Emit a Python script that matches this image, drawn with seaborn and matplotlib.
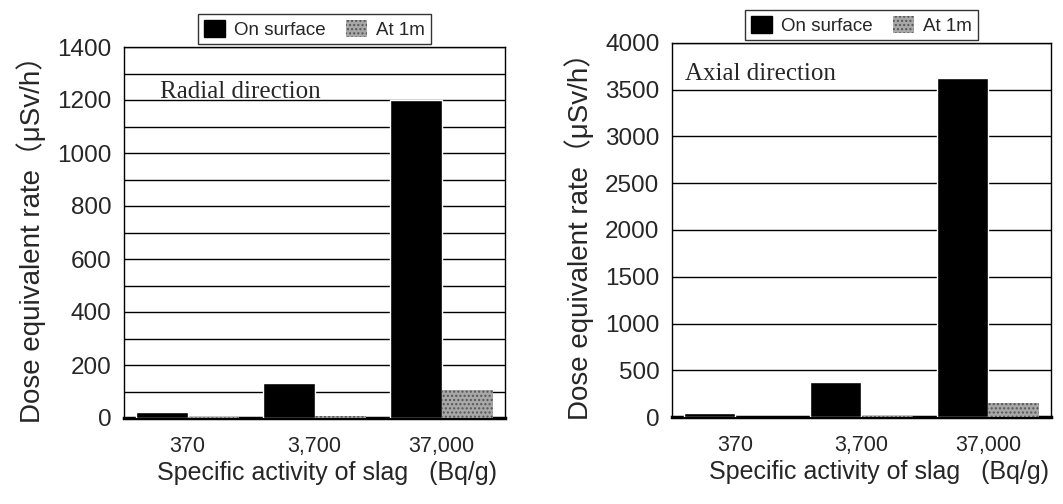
import matplotlib
matplotlib.use("Agg")
import matplotlib.pyplot as plt
import seaborn as sns
import pandas as pd
from matplotlib.patches import Patch

# Specific activity categories (Bq/g)
activities = ["370", "3,700", "37,000"]
series = ["On surface", "At 1m"]

# Dose equivalent rate (uSv/h), radial direction
radial_surface = [24, 131, 1200]
radial_1m = [2, 9, 104]

# Dose equivalent rate (uSv/h), axial direction
axial_surface = [45, 375, 3630]
axial_1m = [3, 12, 155]

sns.set_theme(style="white")
plt.rcParams["font.family"] = ["Liberation Sans", "Noto Sans CJK JP", "DejaVu Sans"]

SURF_COLOR = "#000000"
ONEM_COLOR = "#a8a8a8"


def make_frame(surface, one_m):
    rows = []
    for a, s, m in zip(activities, surface, one_m):
        rows.append({"activity": a, "series": series[0], "rate": s})
        rows.append({"activity": a, "series": series[1], "rate": m})
    return pd.DataFrame(rows)


def draw_panel(ax, df, ymax, major, minor, label, label_xy, xlabel_x):
    sns.barplot(data=df, x="activity", y="rate", hue="series",
                hue_order=series, order=activities,
                palette=[SURF_COLOR, ONEM_COLOR], width=0.81,
                saturation=1, dodge=True, ax=ax, legend=False, zorder=3)
    for patch in ax.patches[len(activities):]:
        patch.set_hatch("....")
        patch.set_edgecolor("#555555")
        patch.set_linewidth(0)
    ax.set_ylim(0, ymax)
    ax.set_xlim(-0.5, 2.5)
    ax.set_yticks(range(0, ymax + 1, major))
    ax.set_yticks(range(0, ymax + 1, minor), minor=True)
    ax.grid(True, axis="y", which="both", color="black", linewidth=1.0, zorder=0)
    ax.set_axisbelow(True)
    for side in ["left", "top", "right"]:
        ax.spines[side].set_visible(True)
        ax.spines[side].set_color("black")
        ax.spines[side].set_linewidth(1.0)
    ax.spines["bottom"].set_color("black")
    ax.spines["bottom"].set_linewidth(2.5)
    ax.tick_params(axis="y", labelsize=17.5, length=0, pad=9)
    ax.tick_params(axis="x", labelsize=15.5, length=0, pad=13)
    ax.set_xlabel("Specific activity of slag   (Bq/g)", fontsize=18,
                  labelpad=3, x=xlabel_x)
    ax.set_ylabel("Dose equivalent rate\uff08\u03bcSv/h\uff09", fontsize=20,
                  labelpad=8)
    ax.text(label_xy[0], label_xy[1], label, transform=ax.transAxes,
            fontsize=18, family="Liberation Serif", va="baseline", ha="left",
            zorder=5)
    handles = [Patch(facecolor=SURF_COLOR, edgecolor=SURF_COLOR),
               Patch(facecolor=ONEM_COLOR, edgecolor="#555555", hatch="....",
                     linewidth=0)]
    leg = ax.legend(handles, series, loc="lower center",
                    bbox_to_anchor=(0.5, 1.0), ncol=2, frameon=True,
                    fontsize=13.5, handlelength=1.1, handleheight=1.0,
                    handletextpad=0.5, columnspacing=1.1,
                    borderpad=0.3, fancybox=False, borderaxespad=0.15)
    leg.get_frame().set_edgecolor("black")
    leg.get_frame().set_linewidth(1.0)


fig = plt.figure(figsize=(10.63, 5.04), dpi=100)
W, H = 1063, 504
ax1 = fig.add_axes([124 / W, (H - 418) / H, 381 / W, 371 / H])
ax2 = fig.add_axes([672 / W, (H - 417) / H, 379 / W, 374 / H])

draw_panel(ax1, make_frame(radial_surface, radial_1m), 1400, 200, 100,
           "Radial direction", (0.094, 0.862), 0.534)
draw_panel(ax2, make_frame(axial_surface, axial_1m), 4000, 500, 500,
           "Axial direction", (0.034, 0.90), 0.547)

fig.savefig("out.png", dpi=100, facecolor="white")
